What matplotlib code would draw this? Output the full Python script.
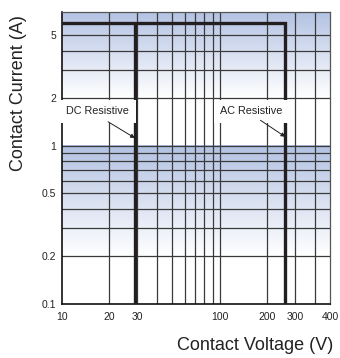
import numpy as np
import matplotlib.pyplot as plt
from matplotlib.colors import LinearSegmentedColormap

plt.rcParams['font.family'] = ['Liberation Sans', 'DejaVu Sans']

# axis ranges
x_min, x_max = 10, 500
y_min, y_max = 0.1, 7

# tick labels (the chart prints "400" at its right edge)
x_tick_pos = [10, 20, 30, 100, 200, 300, 500]
x_tick_labels = ['10', '20', '30', '100', '200', '300', '400']
y_tick_pos = [0.1, 0.2, 0.5, 1, 2, 5]
y_tick_labels = ['0.1', '0.2', '0.5', '1', '2', '5']

# grid lines
x_grid = [20, 30, 40, 50, 60, 70, 80, 90, 100, 200, 300, 400]
y_grid = [0.2, 0.3, 0.4, 0.5, 0.6, 0.7, 0.8, 0.9, 1, 2, 3, 4, 5]

# shaded bands (bottom, top) - blue at top fading to white
bands = [(2, 7), (0.2, 1)]

# limit curves
dc_voltage = 29
ac_voltage = 260
max_current = 6

fig = plt.figure(figsize=(3.4, 3.58), dpi=100)
ax = fig.add_axes([0.182, 0.151, 0.789, 0.815])
ax.set_xscale('log')
ax.set_yscale('log')
ax.set_xlim(x_min, x_max)
ax.set_ylim(y_min, y_max)

# gradient bands drawn in axes coords
cmap = LinearSegmentedColormap.from_list('band', ['#ffffff', '#b3c2e3'])
grad = np.linspace(0, 1, 256).reshape(-1, 1)
span = np.log10(y_max / y_min)
for lo, hi in bands:
    f0 = np.log10(lo / y_min) / span
    f1 = np.log10(hi / y_min) / span
    ax.imshow(grad, cmap=cmap, aspect='auto', origin='lower',
              extent=[0, 1, f0, f1], transform=ax.transAxes, zorder=0)

for xv in x_grid:
    ax.axvline(xv, color='#3a3a3a', lw=0.9, zorder=1)
for yv in y_grid:
    ax.axhline(yv, color='#3a3a3a', lw=0.9, zorder=1)

# limit lines
ax.plot([dc_voltage, dc_voltage], [y_min, max_current], color='#231f20', lw=2.4,
        zorder=3, solid_capstyle='butt')
ax.plot([x_min, ac_voltage, ac_voltage], [max_current, max_current, y_min],
        color='#231f20', lw=2.4, zorder=3, solid_joinstyle='miter')

# labels with arrows
box = dict(boxstyle='square,pad=0.6', fc='white', ec='none')
ax.text(16.9, 1.66, 'DC Resistive', fontsize=7.8, ha='center', va='center',
        color='#222222', bbox=box, zorder=4)
ax.text(159, 1.66, 'AC Resistive', fontsize=7.8, ha='center', va='center',
        color='#222222', bbox=box, zorder=4)
arrow = dict(arrowstyle='-|>', color='#222222', lw=0.7, mutation_scale=6,
             shrinkA=0, shrinkB=0)
ax.annotate('', xy=(dc_voltage, 1.12), xytext=(19.6, 1.42), arrowprops=arrow, zorder=5)
ax.annotate('', xy=(ac_voltage, 1.14), xytext=(181, 1.45), arrowprops=arrow, zorder=5)

ax.set_xticks(x_tick_pos)
ax.set_xticklabels(x_tick_labels)
ax.set_yticks(y_tick_pos)
ax.set_yticklabels(y_tick_labels)
ax.minorticks_off()
ax.tick_params(length=0, labelsize=7.5, colors='#222222', pad=6)
ax.tick_params(axis='y', pad=4)

for side in ['top', 'right']:
    ax.spines[side].set_color('#555555')
    ax.spines[side].set_linewidth(0.9)
for side in ['bottom', 'left']:
    ax.spines[side].set_color('#111111')
    ax.spines[side].set_linewidth(1.2)

fig.text(0.053, 0.74, 'Contact Current (A)', rotation=90, fontsize=13,
         ha='center', va='center', color='#222222')
fig.text(0.75, 0.035, 'Contact Voltage (V)', fontsize=13,
         ha='center', va='center', color='#222222')

fig.savefig('out.png', dpi=100)
